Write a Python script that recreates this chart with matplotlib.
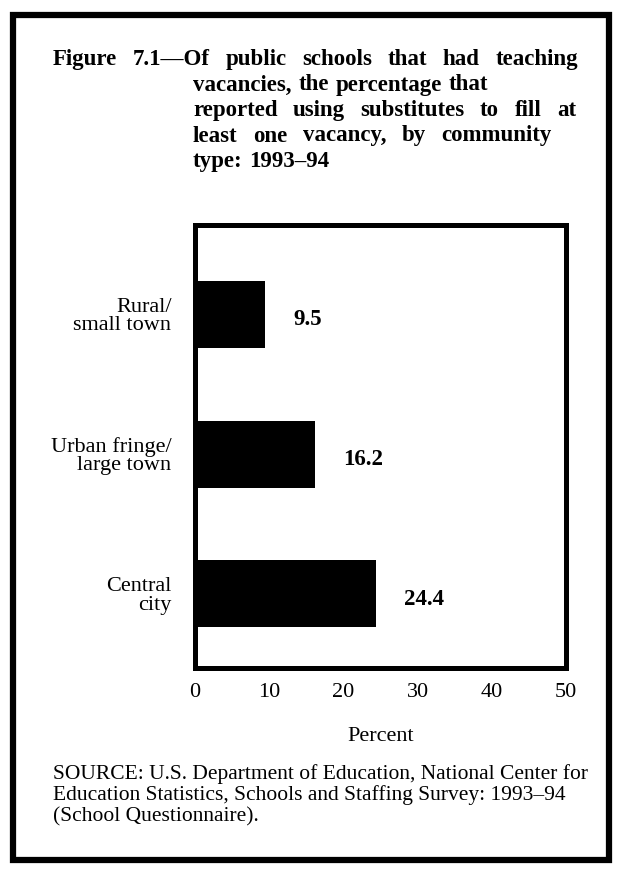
import matplotlib.pyplot as plt
from matplotlib.patches import Rectangle

plt.rcParams['font.family'] = ['Liberation Serif', 'DejaVu Serif']

categories = ["Rural/\nsmall town", "Urban fringe/\nlarge town", "Central\ncity"]
values = [9.5, 16.2, 24.4]
xticks = [0, 10, 20, 30, 40, 50]

title_lines = ["Figure 7.1\u2014Of public schools that had teaching",
               "vacancies, the percentage that",
               "reported using substitutes to fill at",
               "least one vacancy, by community",
               "type: 1993\u201394"]
# right end (px) of each justified title line, None = natural spacing
title_ends = [578, None, 576, 552, None]
source_lines = ["SOURCE: U.S. Department of Education, National Center for",
                "Education Statistics, Schools and Staffing Survey: 1993\u201394",
                "(School Questionnaire)."]

W, H = 621, 871
fig = plt.figure(figsize=(W / 100, H / 100), dpi=100)
renderer = fig.canvas.get_renderer()


def put_line(text, x0, x1, y, **kw):
    # lay words out one by one so the line can be stretched like justified text
    words = text.split(' ')
    objs = [fig.text(0, 1 - y / H, w, va='baseline', ha='left', **kw) for w in words]
    widths = [o.get_window_extent(renderer).width for o in objs]
    space = kw.get('fontsize', 12) * 0.3 * 100 / 72
    if x1 is not None and len(words) > 1:
        space = (x1 - x0 - sum(widths)) / (len(words) - 1)
    x = x0
    for o, w in zip(objs, widths):
        o.set_x(x / W)
        x += w + space


# outer frame
fig.patches.append(Rectangle((13 / W, 1 - 860 / H), 596 / W, 845 / H,
                             transform=fig.transFigure, fill=False,
                             edgecolor='black', linewidth=4.5))

# title, hanging indent after the first line
for i, (line, end) in enumerate(zip(title_lines, title_ends)):
    x0 = 53 if i == 0 else 193
    put_line(line, x0, end, 65 + 25.5 * i, fontsize=16.5, fontweight='bold')

ax = fig.add_axes([195 / W, 1 - 668 / H, 371 / W, 443 / H])
ypos = list(range(len(categories)))
ax.barh(ypos, values, height=0.48, color='black')
ax.set_xlim(0, 50)
ax.set_ylim(2.53, -0.64)

for y, v in zip(ypos, values):
    ax.annotate(f"{v:.1f}", (v, y), xytext=(20, -4), textcoords='offset points',
                va='center', ha='left', fontsize=16.5, fontweight='bold')

ax.set_yticks(ypos)
ax.set_yticklabels(categories, fontsize=16, ha='right', linespacing=0.95)
ax.set_xticks(xticks)
ax.set_xticklabels([str(t) for t in xticks], fontsize=16)
ax.tick_params(axis='both', length=0)
ax.tick_params(axis='y', pad=17)
ax.tick_params(axis='x', pad=11)
for s in ax.spines.values():
    s.set_linewidth(3.6)

ax.set_xlabel("Percent", fontsize=16, labelpad=18)

for i, line in enumerate(source_lines):
    fig.text(53 / W, 1 - (779 + 21 * i) / H, line, fontsize=15.5,
             va='baseline', ha='left')

fig.savefig("out.png", dpi=100)
